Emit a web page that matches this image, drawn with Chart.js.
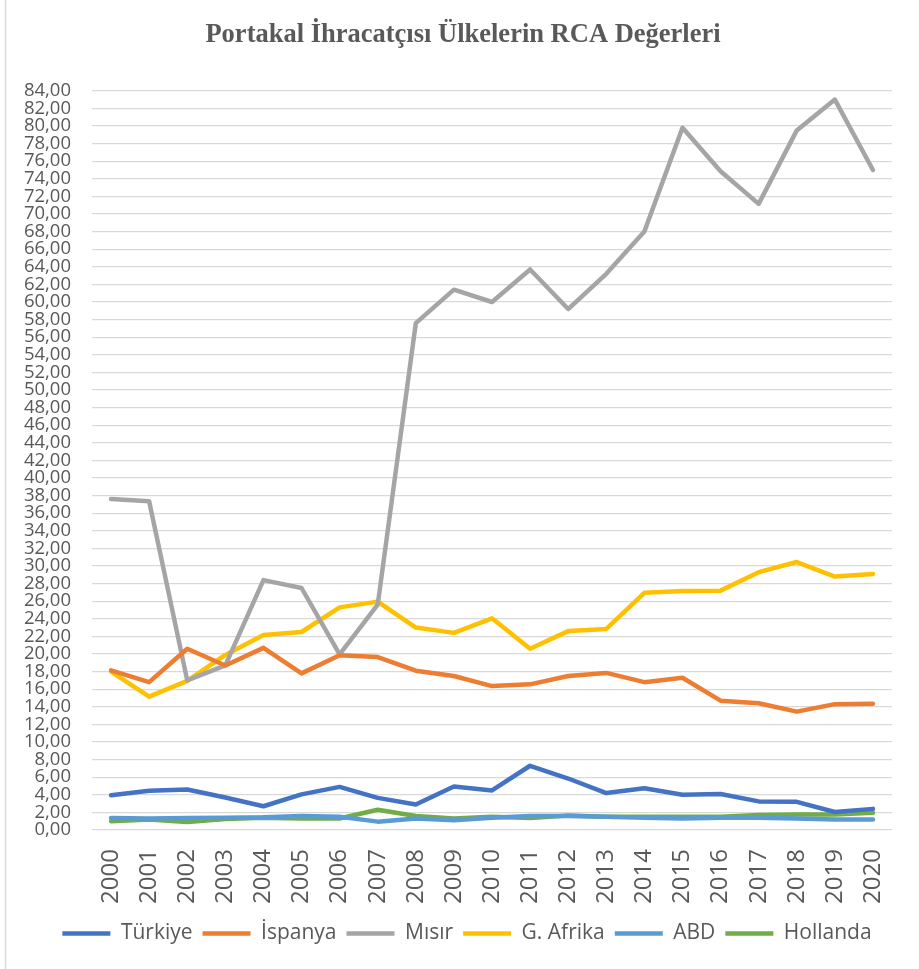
<!DOCTYPE html>
<html>
<head>
<meta charset="utf-8">
<script src="https://cdn.jsdelivr.net/npm/chart.js@4"></script>
<style>
  html, body { margin: 0; padding: 0; background: #ffffff; }
  #wrap { width: 919px; height: 969px; }
</style>
</head>
<body>
<div id="wrap"><canvas id="rcaChart" width="919" height="969"></canvas></div>
<script>
// yıllar ve ülke serileri (RCA değerleri)
const yillar = ['2000', '2001', '2002', '2003', '2004', '2005', '2006', '2007', '2008', '2009', '2010',
    '2011', '2012', '2013', '2014', '2015', '2016', '2017', '2018', '2019', '2020'];
const turkiye = [3.95, 4.45, 4.6, 3.7, 2.7, 4.05, 4.9, 3.65, 2.9, 4.95, 4.5, 7.3, 5.85, 4.2, 4.75, 4.0, 4.1, 3.25, 3.2, 2.05, 2.4];
const ispanya = [18.15, 16.8, 20.6, 18.7, 20.7, 17.8, 19.85, 19.65, 18.1, 17.5, 16.35, 16.55, 17.5, 17.85, 16.8, 17.3, 14.7, 14.4, 13.45, 14.3, 14.35];
const misir = [37.6, 37.35, 17.0, 18.7, 28.4, 27.5, 19.95, 25.6, 57.6, 61.4, 60.0, 63.7, 59.2, 63.2, 68.0, 79.8, 74.85, 71.15, 79.5, 83.0, 75.0];
const gAfrika = [18.0, 15.15, 16.95, 19.9, 22.15, 22.5, 25.3, 25.95, 23.0, 22.4, 24.05, 20.6, 22.6, 22.85, 26.95, 27.15, 27.2, 29.3, 30.45, 28.8, 29.1];
const abd = [1.35, 1.3, 1.35, 1.4, 1.45, 1.6, 1.5, 0.95, 1.3, 1.1, 1.4, 1.6, 1.6, 1.5, 1.4, 1.3, 1.4, 1.4, 1.3, 1.2, 1.2];
const hollanda = [1.0, 1.2, 0.9, 1.25, 1.4, 1.3, 1.3, 2.3, 1.6, 1.3, 1.5, 1.35, 1.65, 1.5, 1.5, 1.5, 1.5, 1.7, 1.75, 1.75, 1.95];
const seriAdlari = ['Türkiye', 'İspanya', 'Mısır', 'G. Afrika', 'ABD', 'Hollanda'];
const renkler = ['#4472c4', '#ed7d31', '#a5a5a5', '#ffc000', '#5b9bd5', '#70ad47'];

const yaziFont = "'Open Sans', sans-serif";

function seri(i, veri) {
    return {
        label: seriAdlari[i],
        data: veri,
        borderColor: renkler[i],
        backgroundColor: renkler[i],
        borderWidth: 4.5,
        borderCapStyle: 'round',
        borderJoinStyle: 'round',
        pointRadius: 0,
        tension: 0,
        fill: false
    };
}

// sol kenardaki ince çizgi
const kenarCizgisi = {
    id: 'kenarCizgisi',
    afterDraw(chart) {
        const c = chart.ctx;
        c.save();
        c.strokeStyle = '#d9d9d9';
        c.lineWidth = 1.5;
        c.beginPath();
        c.moveTo(5.5, 0);
        c.lineTo(5.5, chart.height);
        c.stroke();
        c.restore();
    }
};

// başlık ve lejant biraz sağa kaydırılıyor (orijinaldeki gibi)
const ortala = {
    id: 'ortala',
    afterLayout(chart) {
        if (chart.titleBlock) {
            chart.titleBlock.left += 17;
            chart.titleBlock.right += 17;
        }
        if (chart.legend) {
            chart.legend.left += 21;
            chart.legend.right += 21;
        }
    }
};

const ctx = document.getElementById('rcaChart').getContext('2d');
new Chart(ctx, {
    type: 'line',
    data: {
        labels: yillar,
        datasets: [
            seri(0, turkiye),
            seri(1, ispanya),
            seri(2, misir),
            seri(3, gAfrika),
            seri(4, abd),
            seri(5, hollanda)
        ]
    },
    options: {
        responsive: false,
        animation: false,
        layout: {
            padding: { left: 0, right: 27, top: 0, bottom: 15 }
        },
        plugins: {
            title: {
                display: true,
                text: 'Portakal İhracatçısı Ülkelerin RCA Değerleri',
                color: '#595959',
                font: { family: "'Liberation Serif', 'Times New Roman', serif", size: 26.5, weight: 'bold', lineHeight: 1.2 },
                padding: { top: 19, bottom: 40 }
            },
            legend: {
                position: 'bottom',
                labels: {
                    color: '#595959',
                    font: { family: yaziFont, size: 21 },
                    usePointStyle: true,
                    pointStyle: 'line',
                    pointStyleWidth: 48,
                    boxHeight: 21,
                    padding: 10
                }
            },
            tooltip: { enabled: false }
        },
        scales: {
            x: {
                offset: true,
                grid: { display: false },
                border: { display: false },
                ticks: {
                    color: '#595959',
                    font: { family: yaziFont, size: 24 },
                    minRotation: 90,
                    maxRotation: 90,
                    autoSkip: false,
                    padding: 11
                },
                afterFit: function(scale) { scale.height = 83; }
            },
            y: {
                min: 0,
                max: 84,
                grid: { color: '#d9d9d9', lineWidth: 1.3, drawTicks: false },
                border: { display: false },
                ticks: {
                    stepSize: 2,
                    autoSkip: false,
                    color: '#595959',
                    font: { family: yaziFont, size: 18.5 },
                    padding: 21,
                    callback: function(value) {
                        return value.toFixed(2).replace('.', ',');
                    }
                },
                afterFit: function(scale) { scale.width = 92; }
            }
        }
    },
    plugins: [kenarCizgisi, ortala]
});
</script>
</body>
</html>
